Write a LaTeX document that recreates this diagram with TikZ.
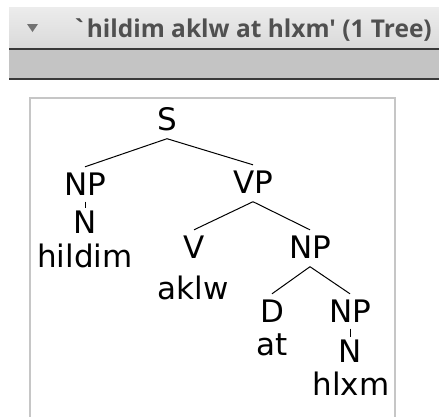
\documentclass[tikz,border=0pt]{standalone}
\usepackage{fontspec}
\setmainfont{DejaVu Sans}
\newfontfamily\titlefont{Open Sans}
\newcommand\treefont{\fontsize{31}{36}\selectfont}
\definecolor{hdtop}{HTML}{ECECEC}
\definecolor{hdbot}{HTML}{DADADA}
\definecolor{darkline}{HTML}{3A3A3A}
\definecolor{barcol}{HTML}{C4C4C4}
\definecolor{tricol}{HTML}{727272}
\definecolor{titlecol}{HTML}{505050}
\definecolor{boxcol}{HTML}{C6C6C6}
\begin{document}
\begin{tikzpicture}[x=1pt,y=-1pt,
  cat/.style={inner sep=0pt, text height=28pt, text depth=8.5pt, anchor=base, font=\treefont},
  word/.style={inner sep=0pt, anchor=base, font=\treefont},
  edge/.style={draw=black, line width=1pt},
  tick/.style={draw=black, line width=1pt},
]
\useasboundingbox (0,0) rectangle (439,416);
\fill[white] (0,0) rectangle (439,416);
% header
\shade[top color=hdtop, bottom color=hdbot] (9,7) rectangle (439,48);
\fill[darkline] (9,48) rectangle (439,50);
\fill[barcol] (9,50) rectangle (439,78);
\fill[darkline] (9,78) rectangle (439,80);
\fill[tricol] (27,24) -- (38,24) -- (32.5,32) -- cycle;
\node[anchor=base east, inner sep=0pt, text=titlecol,
      font=\titlefont\bfseries\fontsize{24.5}{29}\selectfont] (title) at (432,37)
      {\char96 hildim aklw at hlxm\char39\ (1 Tree)};
% tree box
\draw[boxcol, line width=2pt] (30,418) -- (30,98) -- (395,98) -- (395,418);
% tree nodes
\node[cat] (S) at (167,130) {S};
\node[cat] (NPa) at (85,195) {NP};
\node[cat] (Na) at (85,233) {N};
\node[word] (wa) at (85,267) {hildim};
\node[cat] (VP) at (253,193) {VP};
\node[cat] (V) at (194,258) {V};
\node[word] (wb) at (193,299) {aklw};
\node[cat] (NPb) at (310,258) {NP};
\node[cat] (D) at (272,322) {D};
\node[word] (wc) at (272,355) {at};
\node[cat] (NPc) at (350,322) {NP};
\node[cat] (Nc) at (350,362) {N};
\node[word] (wd) at (351,395) {hlxm};
% edges
\draw[edge] (S.south) -- (NPa.north);
\draw[edge] (S.south) -- (VP.north);
\draw[edge] (VP.south) -- (V.north);
\draw[edge] (VP.south) -- (NPb.north);
\draw[edge] (NPb.south) -- (D.north);
\draw[edge] (NPb.south) -- (NPc.north);
\draw[tick] ([yshift=2pt]NPa.south) -- ([yshift=-3pt]Na.north);
\draw[tick] ([yshift=2pt]NPc.south) -- ([yshift=-3pt]Nc.north);
\end{tikzpicture}
\end{document}
